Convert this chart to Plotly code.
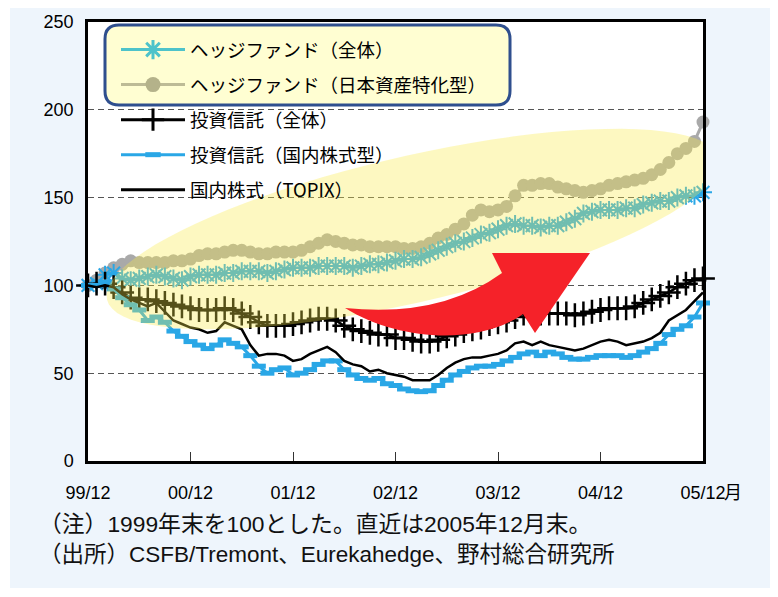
import plotly.graph_objects as go
import math

# ---------------- data (index, Dec-1999 = 100), monthly 1999/12 .. 2005/12 ----------------
months = list(range(73))

hf_all = [100, 101, 106, 107, 104, 103, 104, 105, 106, 105, 104, 103,
          105, 106, 106, 106, 107, 107, 108, 108, 108, 107, 108, 109,
          110, 110, 110, 111, 111, 111, 111, 110, 111, 112, 112, 113,
          114, 115, 115, 116, 118, 120, 122, 124, 125, 127, 129, 130,
          132, 134, 135, 134, 134, 133, 134, 134, 136, 138, 141, 142,
          143, 143, 143, 144, 144, 146, 147, 148, 148, 150, 151, 151,
          153]

hf_jp = [100, 103, 107, 110, 112, 114, 113, 113, 113, 113, 114, 114,
         115, 117, 118, 118, 119, 120, 120, 119, 118, 118, 119, 119,
         119, 120, 122, 124, 126, 125, 124, 123, 123, 122, 122, 122,
         122, 121, 121, 122, 124, 127, 129, 132, 135, 140, 143, 142,
         143, 145, 151, 157, 157, 158, 158, 156, 155, 154, 153, 154,
         155, 157, 158, 159, 160, 161, 163, 166, 170, 175, 178, 182,
         193]

it_all = [100, 101, 101, 99, 96, 93, 92, 92, 91, 90, 89, 88,
          87, 86, 86, 86, 87, 86, 84, 82, 79, 77, 77, 77,
          78, 79, 80, 81, 81, 80, 77, 75, 74, 73, 72, 72,
          70, 70, 69, 68, 68, 69, 71, 72, 74, 75, 76, 78,
          79, 80, 82, 84, 84, 84, 84, 84, 84, 83, 84, 85,
          86, 87, 87, 87, 88, 90, 92, 94, 96, 99, 101, 103,
          104]

it_dom = [100, 100, 102, 98, 93, 89, 86, 80, 82, 79, 74, 71,
          68, 66, 64, 66, 69, 67, 65, 60, 54, 50, 52, 53,
          49, 50, 52, 55, 57, 57, 52, 49, 47, 46, 47, 44,
          43, 41, 40, 39.5, 40, 43, 46, 49, 51, 53, 54, 54,
          55, 57, 59, 61, 62, 60, 62, 61, 59, 58, 58, 59,
          60, 60, 60, 59, 60, 62, 64, 67, 72, 75, 77, 82,
          90]

topix = [100, 99, 100, 99, 95, 92, 90, 88, 90, 85, 80, 78,
         76, 75, 73, 74, 79, 77, 75, 66, 60, 61, 61, 60,
         57, 58, 61, 63, 65, 62, 57, 55, 54, 51, 52, 50,
         49, 48, 46, 46, 46, 49, 53, 56, 58, 59, 59, 60,
         61, 63, 67, 68, 66, 68, 66, 65, 64, 63, 64, 66,
         68, 69, 68, 66, 67, 68, 70, 73, 80, 83, 86, 91,
         96]

tick_vals = [0, 12, 24, 36, 48, 60, 72]
tick_text = ["99/12", "00/12", "01/12", "02/12", "03/12", "04/12", "05/12"]
y_ticks = [0, 50, 100, 150, 200, 250]

names = ["ヘッジファンド（全体）", "ヘッジファンド（日本資産特化型）",
         "投資信託（全体）", "投資信託（国内株式型）", "国内株式（TOPIX）"]

# ---------------- styles ----------------
BLUE = "#2AA7E6"
GRAY = "#A9A9A9"
BLACK = "#000000"
CJK = "Noto Sans CJK JP"
LAT = "Liberation Sans, Noto Sans CJK JP"

# plot-area geometry (pixels) used only for decorations
L, R, T, B = 88, 703, 22, 461
W, H = 778, 597


def dx(px):
    return (px - L) / (R - L) * 72


def dy(py):
    return (B - py) / (B - T) * 250


def pxp(px):
    return (px - L) / (R - L)


def pyp(py):
    return (B - py) / (B - T)


fig = go.Figure()

# data traces
fig.add_trace(go.Scatter(x=months, y=hf_jp, mode="lines+markers", showlegend=False,
                         line=dict(color=GRAY, width=3),
                         marker=dict(symbol="circle", size=13, color=GRAY),
                         cliponaxis=False))
fig.add_trace(go.Scatter(x=months, y=hf_all, mode="lines+markers", showlegend=False,
                         line=dict(color=BLUE, width=2),
                         marker=dict(symbol="asterisk-open", size=15, color=BLUE,
                                     line=dict(color=BLUE, width=2)),
                         cliponaxis=False))
fig.add_trace(go.Scatter(x=months, y=it_all, mode="lines+markers", showlegend=False,
                         line=dict(color=BLACK, width=2.5),
                         marker=dict(symbol="cross-thin-open", size=17, color=BLACK,
                                     line=dict(color=BLACK, width=2.5)),
                         cliponaxis=False))
fig.add_trace(go.Scatter(x=months, y=it_dom, mode="lines+markers", showlegend=False,
                         line=dict(color=BLUE, width=3),
                         marker=dict(symbol="line-ew-open", size=10, color=BLUE,
                                     line=dict(color=BLUE, width=5)),
                         cliponaxis=False))
fig.add_trace(go.Scatter(x=months, y=topix, mode="lines", showlegend=False,
                         line=dict(color=BLACK, width=2.5), cliponaxis=False))

# legend proxies (colours as seen inside the highlighted legend box)
leg_styles = [
    dict(line=dict(color="#4EC3CA", width=3),
         marker=dict(symbol="asterisk-open", size=16, color="#4EC3CA",
                     line=dict(color="#4EC3CA", width=3))),
    dict(line=dict(color="#BDBB96", width=3),
         marker=dict(symbol="circle", size=15, color="#B4B28A")),
    dict(line=dict(color=BLACK, width=3),
         marker=dict(symbol="cross-thin-open", size=17, color=BLACK,
                     line=dict(color=BLACK, width=3))),
    dict(line=dict(color=BLUE, width=3),
         marker=dict(symbol="line-ew-open", size=11, color=BLUE,
                     line=dict(color=BLUE, width=6))),
    dict(line=dict(color=BLACK, width=3), marker=dict(size=1, opacity=0)),
]
for i, (nm, st) in enumerate(zip(names, leg_styles)):
    fig.add_trace(go.Scatter(x=[None], y=[None], name=nm,
                             mode="lines" if i == 4 else "lines+markers",
                             legendgroup=f"g{i}", **st))

# ---------------- decorations ----------------
shapes = []
# outer light-blue panel
shapes.append(dict(type="rect", xref="paper", yref="paper", layer="below",
                   x0=pxp(10), x1=pxp(770), y0=pyp(588), y1=pyp(8),
                   fillcolor="#EEF5FC", line=dict(width=0)))
# white plotting area
shapes.append(dict(type="rect", xref="paper", yref="paper", layer="below",
                   x0=0, x1=1, y0=0, y1=1, fillcolor="white", line=dict(width=0)))
# white backing of lower legend entries
shapes.append(dict(type="rect", xref="paper", yref="paper", layer="between",
                   x0=pxp(115), x1=pxp(352), y0=pyp(206), y1=pyp(100),
                   fillcolor="white", line=dict(width=0)))

# rounded yellow legend box
x1, x2, y1, y2, r = 105, 510, 25, 105, 14
pts = [("M", x1 + r, y1), ("L", x2 - r, y1), ("Q", x2, y1, x2, y1 + r), ("L", x2, y2 - r),
       ("Q", x2, y2, x2 - r, y2), ("L", x1 + r, y2), ("Q", x1, y2, x1, y2 - r),
       ("L", x1, y1 + r), ("Q", x1, y1, x1 + r, y1)]


def seg(p):
    cmd = p[0]
    coords = p[1:]
    out = []
    for k in range(0, len(coords), 2):
        out.append(f"{dx(coords[k]):.4f},{dy(coords[k+1]):.4f}")
    return cmd + " " + " ".join(out)


box_path = " ".join(seg(p) for p in pts) + " Z"
shapes.append(dict(type="path", xref="x", yref="y", layer="between", path=box_path,
                   fillcolor="#FFFED2", line=dict(color="#2F4F8E", width=3)))

# translucent highlight ellipse (above the lines)
cx, cy, a, b, ang = 413, 229, 314, 73, math.radians(13)
ux, uy = math.cos(ang), -math.sin(ang)
nx, ny = math.sin(ang), math.cos(ang)
ell = []
N = 90
for k in range(N):
    t = 2 * math.pi * k / N
    px = cx + a * math.cos(t) * ux + b * math.sin(t) * nx
    py = cy + a * math.cos(t) * uy + b * math.sin(t) * ny
    ell.append(f"{dx(px):.4f},{dy(py):.4f}")
ell_path = "M " + " L ".join(ell) + " Z"
shapes.append(dict(type="path", xref="x", yref="y", layer="above", path=ell_path,
                   fillcolor="rgba(250,235,74,0.34)", line=dict(width=0)))

# red curved arrow
arrow = [("M", 345, 308), ("Q", 440, 318, 502, 273), ("L", 492, 253), ("L", 590, 253),
         ("L", 535, 333), ("L", 523, 314), ("C", 480, 345, 400, 342, 345, 308)]
arrow_path = " ".join(seg(p) for p in arrow) + " Z"
shapes.append(dict(type="path", xref="x", yref="y", layer="above", path=arrow_path,
                   fillcolor="#F52229", line=dict(width=0)))

annotations = [
    dict(text="月", xref="paper", yref="paper", x=pxp(722), y=pyp(491),
         xanchor="left", yanchor="middle", showarrow=False,
         font=dict(family=CJK, size=18, color="black")),
    dict(text="（注）1999年末を100とした。直近は2005年12月末。", xref="paper", yref="paper",
         x=pxp(37), y=pyp(524), xanchor="left", yanchor="middle", showarrow=False,
         font=dict(family=LAT, size=22.8, color="#111")),
    dict(text="（出所）CSFB/Tremont、Eurekahedge、野村総合研究所", xref="paper", yref="paper",
         x=pxp(37), y=pyp(554), xanchor="left", yanchor="middle", showarrow=False,
         font=dict(family=LAT, size=22.5, color="#111")),
]

fig.update_layout(
    width=W, height=H, autosize=False,
    margin=dict(l=L, r=W - R, t=T, b=H - B, pad=0),
    paper_bgcolor="white", plot_bgcolor="white",
    shapes=shapes, annotations=annotations,
    showlegend=True,
    legend=dict(x=pxp(116), y=pyp(31), xanchor="left", yanchor="top",
                bgcolor="rgba(0,0,0,0)", borderwidth=0, traceorder="grouped",
                tracegroupgap=8, itemwidth=64,
                font=dict(family=CJK, size=18.5, color="black")),
    xaxis=dict(range=[0, 72], tickvals=tick_vals, ticktext=tick_text,
               showgrid=False, zeroline=False, ticks="inside", ticklen=9,
               tickwidth=1.2, tickcolor="#333", ticklabelstandoff=14,
               showline=True, mirror=True, linecolor="black", linewidth=2.5,
               tickfont=dict(family=LAT, size=18, color="black")),
    yaxis=dict(range=[0, 250], tickvals=y_ticks, showgrid=True, gridcolor="#555",
               gridwidth=1.3, griddash="6px,4px", zeroline=False, ticks="",
               ticklabelstandoff=8,
               showline=True, mirror=True, linecolor="black", linewidth=2.5,
               tickfont=dict(family=LAT, size=18, color="black")),
)

fig.write_html("out.html")
